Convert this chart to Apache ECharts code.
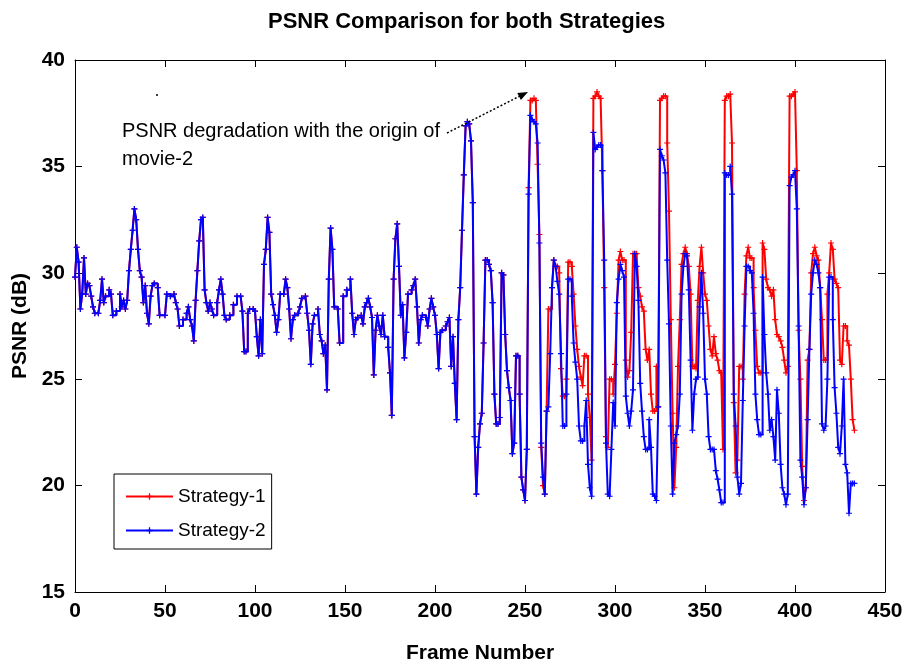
<!DOCTYPE html>
<html>
<head>
<meta charset="utf-8">
<script src="https://cdn.jsdelivr.net/npm/echarts@6/dist/echarts.min.js"></script>
<style>
html,body{margin:0;padding:0;background:#fff;}
#c{width:908px;height:667px;}
</style>
</head>
<body>
<div id="c"></div>
<script>
// Axis ticks
const xTicks = [0, 50, 100, 150, 200, 250, 300, 350, 400, 450];
const yTicks = [15, 20, 25, 30, 35, 40];
const seriesNames = ['Strategy-1', 'Strategy-2'];

// Strategy-2 (blue): [frame, PSNR dB]
const strategy2 = [
[0,29.8],[1,31.2],[2,30.5],[3,28.3],[4,29.0],[5,30.7],[6,29.0],[7,29.5],[8,29.4],[9,28.9],
[10,28.4],[11,28.1],[13,28.1],[14,28.7],[15,29.7],[16,28.6],[17,28.9],[19,29.2],[20,29.0],[21,28.0],
[23,28.2],[25,29.0],[26,28.4],[27,28.7],[28,28.3],[29,28.7],[30,30.1],[31,31.1],[32,32.0],[33,33.0],
[34,32.5],[35,31.1],[36,30.1],[37,29.8],[38,28.6],[39,29.4],[40,28.1],[41,27.6],[42,28.9],[43,29.4],
[44,29.5],[46,29.3],[47,28.0],[50,28.0],[51,29.0],[53,28.9],[55,29.0],[56,28.6],[57,28.3],[58,27.5],
[60,27.8],[62,28.1],[63,28.4],[64,27.8],[65,27.5],[66,26.8],[67,28.7],[68,30.1],[69,31.5],[70,32.5],
[71,32.6],[72,29.2],[73,28.6],[74,28.2],[75,28.6],[76,28.3],[77,28.0],[79,28.6],[80,29.2],[81,29.7],
[82,29.0],[83,28.0],[84,27.8],[86,28.0],[88,28.5],[90,28.9],[92,28.9],[93,28.2],[94,26.3],[95,26.3],
[96,28.1],[97,28.3],[99,28.3],[100,28.2],[101,27.0],[102,26.1],[103,27.8],[104,26.2],[105,30.4],[106,31.1],
[107,32.6],[108,31.9],[109,29.0],[110,28.5],[111,28.0],[112,27.2],[113,27.8],[114,29.0],[116,29.0],[117,29.7],
[118,29.3],[119,28.3],[120,26.9],[121,27.8],[122,28.0],[124,28.1],[125,28.4],[126,28.8],[128,28.9],[129,28.1],
[130,27.3],[131,25.7],[132,27.6],[133,28.0],[135,28.3],[136,27.1],[137,26.8],[138,26.2],[139,26.6],[140,24.5],
[141,29.7],[142,32.1],[143,31.1],[144,28.4],[146,28.3],[147,26.7],[149,28.9],[151,29.2],[153,29.7],[154,28.1],
[155,27.1],[156,27.8],[157,27.9],[159,28.0],[160,27.6],[161,28.4],[162,28.6],[163,28.8],[164,28.4],[165,27.9],
[166,25.2],[167,27.3],[168,28.0],[169,27.5],[170,27.1],[171,28.0],[172,27.0],[174,26.5],[175,25.3],[176,23.3],
[177,29.7],[178,31.6],[179,32.3],[180,30.3],[181,28.0],[182,28.5],[183,26.0],[184,27.2],[185,29.0],[187,29.2],
[188,29.4],[189,29.7],[190,28.4],[191,26.7],[192,27.8],[193,28.0],[195,27.9],[196,27.5],[197,28.3],[198,28.8],
[199,28.4],[200,28.0],[201,27.1],[202,25.5],[203,27.2],[204,27.3],[206,27.5],[207,27.7],[208,27.9],[209,25.6],
[210,27.0],[211,24.8],[212,23.1],[213,27.8],[214,29.3],[215,32.0],[216,34.6],[217,36.9],[218,37.1],[219,37.0],
[220,36.2],[221,33.3],[222,22.3],[223,19.6],[224,21.8],[225,22.9],[226,23.4],[227,26.7],[228,30.6],[229,30.6],
[230,30.4],[231,30.1],[232,28.6],[233,24.3],[234,22.9],[235,22.9],[236,23.2],[237,30.0],[238,29.9],[239,27.1],
[240,25.4],[241,24.6],[242,24.0],[243,21.5],[244,22.0],[245,26.1],[246,26.1],[247,24.3],[248,20.4],[249,19.8],
[250,19.3],[251,21.7],[252,33.7],[253,37.4],[254,37.2],[255,37.1],[256,37.0],[257,36.1],[258,31.4],[259,22.0],
[260,20.4],[261,19.6],[262,23.5],[263,23.7],[264,26.2],[265,29.3],[266,30.6],[267,30.3],[268,29.6],[269,29.0],
[270,26.2],[271,22.8],[272,22.8],[273,24.3],[274,29.7],[275,29.7],[276,28.9],[277,26.7],[278,25.8],[279,25.0],
[280,22.8],[281,22.1],[282,22.1],[283,22.8],[284,24.0],[285,21.0],[286,19.9],[287,19.5],[288,36.6],[289,35.8],
[290,35.9],[291,36.0],[292,36.0],[293,34.8],[294,30.6],[295,22.0],[296,19.6],[297,19.5],[298,21.7],[299,23.9],
[300,22.8],[301,28.6],[302,29.7],[303,30.4],[304,30.1],[305,29.8],[306,24.2],[307,23.4],[308,22.8],[309,23.5],
[310,24.5],[311,30.9],[312,30.3],[313,28.7],[314,24.8],[315,23.5],[316,22.3],[317,21.7],[318,21.7],[319,23.1],
[320,21.8],[321,19.6],[322,19.5],[323,19.3],[324,23.7],[325,35.8],[326,35.5],[327,35.3],[328,34.7],[329,30.6],
[330,27.6],[331,22.8],[332,19.6],[333,22.0],[334,22.4],[335,22.8],[336,24.3],[337,29.0],[338,30.3],[339,30.9],
[340,30.8],[341,29.2],[342,25.9],[343,22.6],[344,24.3],[345,25.0],[346,25.1],[347,28.4],[348,30.0],[349,28.1],
[350,25.0],[351,24.3],[352,22.3],[353,21.7],[354,21.7],[355,21.7],[356,20.7],[357,20.3],[358,19.8],[359,19.2],
[360,19.2],[361,34.7],[362,34.6],[363,34.6],[364,35.0],[365,33.7],[366,24.3],[367,22.8],[368,20.4],[369,19.6],
[370,20.1],[371,24.0],[372,27.5],[373,30.3],[374,30.3],[375,30.1],[376,30.0],[377,28.1],[378,24.3],[379,23.1],
[380,22.4],[381,22.4],[382,29.8],[383,27.1],[384,25.3],[385,24.3],[386,22.6],[387,23.1],[388,22.3],[389,21.2],
[390,24.5],[391,23.4],[392,21.0],[393,19.9],[394,19.6],[395,19.1],[396,19.6],[397,34.1],[398,34.5],[399,34.6],
[400,34.8],[401,33.0],[402,27.5],[403,21.2],[404,20.4],[405,19.1],[406,19.9],[407,23.1],[408,26.4],[409,29.0],
[410,30.0],[411,30.6],[412,30.4],[413,30.0],[414,29.3],[415,22.9],[416,22.6],[417,22.8],[418,25.0],[419,29.8],
[420,29.8],[421,27.8],[422,24.6],[423,23.4],[424,21.8],[425,21.5],[426,22.8],[427,25.0],[428,21.0],[429,20.6],
[430,18.7],[431,20.1],[432,20.1],[433,20.1]
];

// Strategy-1 (red) where it departs from Strategy-2 (frames >= 252)
const strategy1Tail = [
[252,34.0],[253,38.1],[254,38.1],[255,38.2],[256,38.1],[257,35.1],[258,31.8],[259,21.8],[260,20.0],[261,19.6],
[262,23.5],[263,28.3],[264,28.3],[265,29.3],[266,30.6],[267,30.3],[268,30.3],[269,30.0],[270,25.5],[271,24.2],
[272,24.2],[273,25.0],[274,30.5],[275,30.5],[276,30.3],[277,29.0],[278,27.5],[279,26.4],[280,25.6],[281,25.1],
[282,24.7],[283,26.1],[284,26.1],[285,24.3],[286,23.2],[287,21.2],[288,38.2],[289,38.3],[290,38.5],[291,38.3],
[292,38.2],[293,34.8],[294,29.3],[295,22.3],[296,21.8],[297,25.0],[298,25.0],[299,24.3],[300,25.7],[301,28.1],
[302,30.6],[303,31.0],[304,30.6],[305,30.6],[306,25.9],[307,25.1],[308,25.4],[309,27.2],[310,30.9],[311,30.9],
[312,30.9],[313,29.3],[314,28.9],[315,28.4],[316,28.2],[317,26.4],[318,25.9],[319,26.4],[320,24.3],[321,23.5],
[322,23.5],[323,25.6],[324,23.7],[325,38.1],[326,38.2],[327,38.3],[328,38.3],[329,36.1],[330,32.9],[331,27.8],
[332,23.4],[333,19.9],[334,21.8],[335,25.6],[336,27.8],[337,30.4],[338,30.9],[339,31.2],[340,30.9],[341,30.3],
[342,29.0],[343,25.6],[344,25.6],[345,25.5],[346,28.7],[347,30.3],[348,31.2],[349,30.0],[350,29.0],[351,28.7],
[352,27.5],[353,26.4],[354,26.1],[355,27.0],[356,26.2],[357,25.9],[358,25.4],[359,25.3],[360,21.7],[361,38.1],
[362,38.3],[363,38.3],[364,38.4],[365,36.1],[366,23.9],[367,20.6],[368,21.2],[369,25.6],[370,25.6],[371,25.0],
[372,29.0],[373,30.8],[374,31.2],[375,30.7],[376,30.7],[377,29.3],[378,27.3],[379,25.6],[380,25.3],[381,25.3],
[382,31.4],[383,31.1],[384,29.7],[385,29.3],[386,29.2],[387,28.9],[388,29.2],[389,27.8],[390,27.1],[391,27.0],
[392,26.8],[393,26.5],[394,25.9],[395,25.3],[396,25.6],[397,38.3],[398,38.3],[399,38.4],[400,38.5],[401,34.8],
[402,27.3],[403,25.0],[404,20.9],[405,19.3],[406,19.9],[407,25.9],[408,26.4],[409,30.0],[410,30.9],[411,31.2],
[412,30.8],[413,30.6],[414,29.3],[415,27.8],[416,25.9],[417,25.9],[418,29.0],[419,30.0],[420,31.4],[421,31.1],
[422,29.7],[423,29.5],[424,29.3],[425,25.9],[426,25.7],[427,27.5],[428,27.5],[429,26.8],[430,26.6],[431,25.0],
[432,23.1],[433,22.6]
];
const divergeFrame = 252;

const strategy1 = strategy2.filter(p => p[0] < divergeFrame).concat(strategy1Tail);

const FONT = "'Liberation Sans', Arial, sans-serif";
const plus = 'path://M4,0H6V4H10V6H6V10H4V6H0V4H4Z';

const chart = echarts.init(document.getElementById('c'), null, {renderer: 'canvas'});

const axisCommon = {
  axisLine: {show: true, onZero: false, lineStyle: {color: '#000', width: 1}},
  axisTick: {show: true, inside: true, length: 7, lineStyle: {color: '#000', width: 1}},
  splitLine: {show: false}
};

chart.setOption({
  animation: false,
  backgroundColor: '#fff',
  title: {
    text: 'PSNR Comparison for both Strategies',
    left: 263, top: 6,
    textStyle: {fontFamily: FONT, fontWeight: 'bold', fontSize: 22, color: '#000'}
  },
  grid: {left: 75, right: 23, top: 60, bottom: 75, containLabel: false, outerBoundsMode: 'none'},
  legend: {
    data: seriesNames,
    orient: 'vertical',
    left: 114, top: 474,
    padding: [13, 6, 9, 11],
    itemGap: 15,
    itemWidth: 47, itemHeight: 8,
    backgroundColor: '#fff',
    borderColor: '#000', borderWidth: 1,
    textStyle: {fontFamily: FONT, fontSize: 19, color: '#000'}
  },
  xAxis: [
    Object.assign({
      type: 'value', min: xTicks[0], max: xTicks[xTicks.length - 1], interval: 50,
      name: 'Frame Number', nameLocation: 'middle', nameGap: 51,
      nameTextStyle: {fontFamily: FONT, fontWeight: 'bold', fontSize: 21, color: '#000'},
      axisLabel: {fontFamily: FONT, fontWeight: 'bold', fontSize: 21, color: '#000', margin: 9}
    }, axisCommon),
    Object.assign({
      type: 'value', position: 'top', min: xTicks[0], max: xTicks[xTicks.length - 1], interval: 50,
      axisLabel: {show: false}
    }, axisCommon)
  ],
  yAxis: [
    Object.assign({
      type: 'value', min: yTicks[0], max: yTicks[yTicks.length - 1], interval: 5,
      name: 'PSNR (dB)', nameLocation: 'middle', nameGap: 31,
      nameTextStyle: {fontFamily: FONT, fontWeight: 'bold', fontSize: 21, color: '#000'},
      axisLabel: {fontFamily: FONT, fontWeight: 'bold', fontSize: 21, color: '#000', margin: 10}
    }, axisCommon),
    Object.assign({
      type: 'value', position: 'right', min: yTicks[0], max: yTicks[yTicks.length - 1], interval: 5,
      axisLabel: {show: false}
    }, axisCommon)
  ],
  series: [
    {
      name: seriesNames[0], type: 'line', step: 'end', data: strategy1,
      xAxisIndex: 0, yAxisIndex: 0,
      symbol: plus, symbolSize: 6, showSymbol: true,
      itemStyle: {color: '#ff0000'},
      lineStyle: {color: '#ff0000', width: 2},
      z: 2
    },
    {
      name: seriesNames[1], type: 'line', step: 'end', data: strategy2,
      xAxisIndex: 0, yAxisIndex: 0,
      symbol: plus, symbolSize: 6, showSymbol: true,
      itemStyle: {color: '#0000ff'},
      lineStyle: {color: '#0000ff', width: 2},
      z: 3
    }
  ],
  graphic: [
    {type: 'text', left: 122, top: 121, style: {text: 'PSNR degradation with the origin of', font: "20px 'Liberation Sans', Arial", fill: '#000'}, z: 10},
    {type: 'text', left: 122, top: 149, style: {text: 'movie-2', font: "20px 'Liberation Sans', Arial", fill: '#000'}, z: 10},
    {type: 'line', shape: {x1: 447, y1: 133, x2: 520, y2: 96}, style: {stroke: '#000', lineWidth: 1.5, lineDash: [2, 2]}, z: 10},
    {type: 'polygon', shape: {points: [[528, 92], [517.3, 92.9], [520.9, 100.1]]}, style: {fill: '#000'}, z: 10},
    {type: 'circle', shape: {cx: 157, cy: 95, r: 1}, style: {fill: '#000'}, z: 10}
  ]
});
</script>
</body>
</html>
